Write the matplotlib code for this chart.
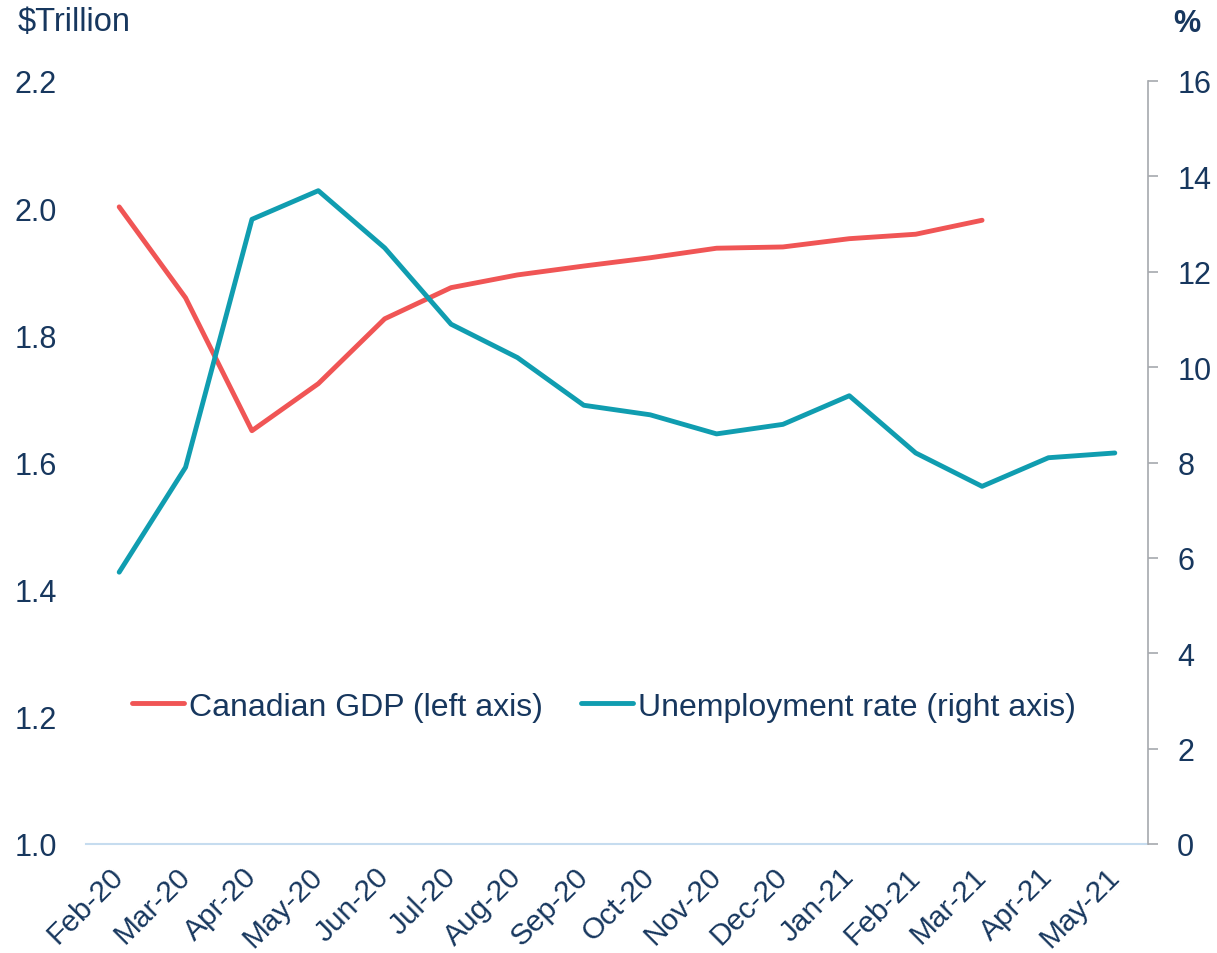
import matplotlib
matplotlib.use("Agg")
import matplotlib.pyplot as plt
from matplotlib.ticker import FixedLocator

plt.rcParams['font.family'] = ['Liberation Sans', 'DejaVu Sans']

months = ["Feb-20", "Mar-20", "Apr-20", "May-20", "Jun-20", "Jul-20", "Aug-20",
          "Sep-20", "Oct-20", "Nov-20", "Dec-20", "Jan-21", "Feb-21", "Mar-21",
          "Apr-21", "May-21"]
gdp = [2.002, 1.859, 1.650, 1.724, 1.826, 1.875, 1.895, 1.909, 1.922, 1.937,
       1.939, 1.952, 1.959, 1.981]
unemployment = [5.7, 7.9, 13.1, 13.7, 12.5, 10.9, 10.2, 9.2, 9.0, 8.6, 8.8,
                9.4, 8.2, 7.5, 8.1, 8.2]
left_ticks = [1.0, 1.2, 1.4, 1.6, 1.8, 2.0, 2.2]
right_ticks = [0, 2, 4, 6, 8, 10, 12, 14, 16]

TEXT = '#17375e'
RED = '#f05555'
TEAL = '#109db0'

fig = plt.figure(figsize=(12.17, 9.54), dpi=100)
ax = fig.add_axes([86 / 1217, 1 - 845 / 954, (1148 - 86) / 1217, (845 - 82) / 954])
ax2 = ax.twinx()

x = list(range(len(months)))
l1, = ax.plot(x[:len(gdp)], gdp, color=RED, lw=3.5, solid_capstyle='round',
              label="Canadian GDP (left axis)")
l2, = ax2.plot(x, unemployment, color=TEAL, lw=3.5, solid_capstyle='round',
               label="Unemployment rate (right axis)")

ax.set_xlim(-0.5, len(months) - 0.5)
ax.set_ylim(1.0, 2.2)
ax2.set_ylim(0, 16)
ax.yaxis.set_major_locator(FixedLocator(left_ticks))
ax.set_yticklabels([f"{v:.1f}" for v in left_ticks])
ax2.yaxis.set_major_locator(FixedLocator(right_ticks))
ax2.set_yticklabels([str(v) for v in right_ticks])
ax.set_xticks(x)
ax.set_xticklabels(months, rotation=45, ha='right', va='center',
                   rotation_mode='anchor')

for a in (ax, ax2):
    for s in a.spines.values():
        s.set_visible(False)
ax.spines['bottom'].set_visible(True)
ax.spines['bottom'].set_color('#c6dcef')
ax.spines['bottom'].set_linewidth(1.5)
ax2.spines['right'].set_visible(True)
ax2.spines['right'].set_color('#a6a9ae')
ax2.spines['right'].set_linewidth(1.2)

ax.tick_params(axis='y', length=0, pad=21, labelsize=22, labelcolor=TEXT)
ax.tick_params(axis='x', length=0, pad=20, labelsize=21.5, labelcolor=TEXT)
ax2.tick_params(axis='y', length=7, width=1.2, color='#a6a9ae', pad=14,
                labelsize=22, labelcolor=TEXT)

fig.text(18 / 1217, 1 - 22 / 954, "$Trillion", fontsize=23.5, color=TEXT,
         ha='left', va='center')
fig.text(1187 / 1217, 1 - 24 / 954, "%", fontsize=22, color=TEXT,
         fontweight='bold', ha='center', va='center')

ax.legend(handles=[l1, l2], loc='center', bbox_to_anchor=(0.488, 0.18), ncol=2,
          frameon=False, fontsize=23, labelcolor=TEXT, handlelength=1.63,
          handletextpad=0.15, columnspacing=1.2)

fig.savefig("out.png", dpi=100)
